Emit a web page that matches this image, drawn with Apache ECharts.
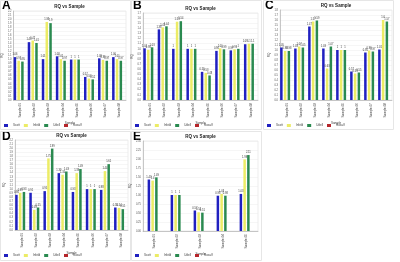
<!DOCTYPE html>
<html>
<head>
<meta charset="utf-8">
<script src="https://cdn.jsdelivr.net/npm/echarts@6/dist/echarts.min.js"></script>
<style>
  html, body { margin: 0; padding: 0; background: #fff; }
  #chart { width: 400px; height: 262px; }
</style>
</head>
<body>
<div id="chart"></div>
<script>
// legend / series names
const seriesNames = ['Scott', 'Infeld', 'Udell', 'Rosalf'];

// panel A
const catsA = ['Sample-01', 'Sample-02', 'Sample-03', 'Sample-04', 'Sample-05', 'Sample-06', 'Sample-07', 'Sample-08'];
const blueA = [1.06, 1.43, 1.01, 1.08, 1, 0.57, 1.03, 1.06];
const yellowA = [0.97, 1.47, 1.93, 1.01, 1, 0.53, 0.99, 1.01];
const greenA = [0.95, 1.41, 1.90, 0.97, 1, 0.51, 0.97, 0.97];

// panel B
const catsB = ['Sample-01', 'Sample-02', 'Sample-03', 'Sample-04', 'Sample-05', 'Sample-06', 'Sample-07', 'Sample-08'];
const blueB = [1.01, 1.38, 1.0, 1, 0.55, 0.96, 0.97, 1.09];
const yellowB = [0.98, 1.42, 1.53, 1, 0.53, 1.01, 0.99, 1.10];
const greenB = [1.03, 1.44, 1.54, 1, 0.48, 0.99, 1.0, 1.10];

// panel C
const catsC = ['Sample-01', 'Sample-02', 'Sample-03', 'Sample-04', 'Sample-05', 'Sample-06', 'Sample-07', 'Sample-08'];
const blueC = [1.05, 1.03, 1.47, 1.03, 1, 0.57, 0.95, 1.01];
const yellowC = [0.98, 1.07, 1.57, 0.63, 1, 0.53, 0.99, 1.60];
const greenC = [0.98, 1.05, 1.59, 1.07, 1, 0.55, 0.97, 1.57];

// panel D
const catsD = ['Sample-01', 'Sample-02', 'Sample-03', 'Sample-04', 'Sample-05', 'Sample-06', 'Sample-07', 'Sample-08'];
const blueD = [0.86, 0.91, 0.95, 1.39, 0.93, 1, 0.98, 0.55];
const yellowD = [0.91, 0.49, 1.75, 1.35, 1.39, 1, 1.44, 0.54];
const greenD = [0.93, 0.55, 1.99, 1.43, 1.49, 1, 1.61, 0.51];

// panel E
const catsE = ['Sample-01', 'Sample-02', 'Sample-03', 'Sample-04', 'Sample-05'];
const blueE = [1.43, 1, 0.57, 0.98, 1.03];
const yellowE = [1.40, 1, 0.52, 1.03, 1.99];
const greenE = [1.49, 1, 0.51, 0.98, 2.11];

const colors = ['#2020c0', '#ecec66', '#2a8a50', '#b5262b'];

const panels = [
    { letter: 'A', cats: catsA, data: [blueA, yellowA, greenA], max: 2.2, step: 0.1, left: 13, top: 11, width: 113, height: 89, px: 0, py: 0, gap: 18, legendTop: 124 },
    { letter: 'B', cats: catsB, data: [blueB, yellowB, greenB], max: 1.7, step: 0.1, left: 143, top: 13, width: 115, height: 87, px: 131, py: 0, gap: 18, legendTop: 124 },
    { letter: 'C', cats: catsC, data: [blueC, yellowC, greenC], max: 1.8, step: 0.1, left: 280, top: 10, width: 112, height: 90, px: 263, py: 0, gap: 18, legendTop: 124 },
    { letter: 'D', cats: catsD, data: [blueD, yellowD, greenD], max: 2.2, step: 0.1, left: 15, top: 140, width: 113, height: 90, px: 0, py: 131, gap: 16, legendTop: 123 },
    { letter: 'E', cats: catsE, data: [blueE, yellowE, greenE], max: 2.5, step: 0.25, left: 143, top: 141, width: 115, height: 90, px: 131, py: 131, gap: 15, legendTop: 123 }
];

const chart = echarts.init(document.getElementById('chart'));

const option = {
    animation: false,
    backgroundColor: '#fff',
    color: colors,
    title: [],
    legend: [],
    grid: [],
    xAxis: [],
    yAxis: [],
    series: [],
    graphic: []
};

panels.forEach(function (p, i) {
    option.graphic.push({
        type: 'text', left: p.px + 2, top: p.py,
        style: { text: p.letter, font: 'bold 12px Arial', fill: '#000' }
    });
    option.graphic.push({
        type: 'rect', shape: { x: p.px + 0.5, y: p.py + 0.5, width: 130, height: 129 },
        style: { fill: 'none', stroke: '#e6e6e6', lineWidth: 1 }
    });
    option.title.push({
        text: 'RQ vs Sample',
        left: p.left + p.width / 2, top: p.top - 7, padding: 0,
        textAlign: 'center',
        textStyle: { fontSize: 4.5, fontWeight: 'bold', color: '#222', fontFamily: 'Arial' }
    });
    option.grid.push({
        left: p.left, top: p.top, width: p.width, height: p.height,
        show: true, borderColor: '#d8d8d8', borderWidth: 0.5, containLabel: false
    });
    option.xAxis.push({
        type: 'category', gridIndex: i, data: p.cats,
        name: 'Sample', nameLocation: 'middle', nameGap: p.gap,
        nameTextStyle: { fontSize: 3, color: '#444' },
        axisTick: { show: false },
        axisLine: { lineStyle: { color: '#999', width: 0.5 } },
        axisLabel: { rotate: 90, fontSize: 3, color: '#444', margin: 3 }
    });
    option.yAxis.push({
        type: 'value', gridIndex: i, min: 0, max: p.max, interval: p.step,
        name: 'RQ', nameLocation: 'middle', nameGap: 8,
        nameTextStyle: { fontSize: 3, color: '#444' },
        axisLine: { show: true, lineStyle: { color: '#999', width: 0.5 } },
        axisTick: { show: false },
        axisLabel: { fontSize: 2.6, color: '#555', margin: 2,
            formatter: function (v) { return p.step < 0.2 ? v.toFixed(1) : v.toFixed(2); } },
        splitLine: { lineStyle: { color: '#ececec', width: 0.5 } }
    });
    p.data.forEach(function (vals, k) {
        option.series.push({
            name: seriesNames[k], type: 'bar', xAxisIndex: i, yAxisIndex: i,
            data: vals, barWidth: 2.5, barGap: '50%',
            itemStyle: { color: colors[k] },
            label: {
                show: true, position: 'top', fontSize: 2.6, color: '#333', distance: 1,
                formatter: function (d) { return String(d.value); }
            }
        });
    });
    option.series.push({
        name: seriesNames[3], type: 'bar', xAxisIndex: i, yAxisIndex: i,
        data: [], barWidth: 2.5, itemStyle: { color: colors[3] }
    });
    option.legend.push({
        data: seriesNames, left: p.px + 4, top: p.py + p.legendTop, padding: 0,
        itemWidth: 4, itemHeight: 3, itemGap: 4, icon: 'rect',
        textStyle: { fontSize: 3, color: '#444' }
    });
});

chart.setOption(option);
</script>
</body>
</html>
